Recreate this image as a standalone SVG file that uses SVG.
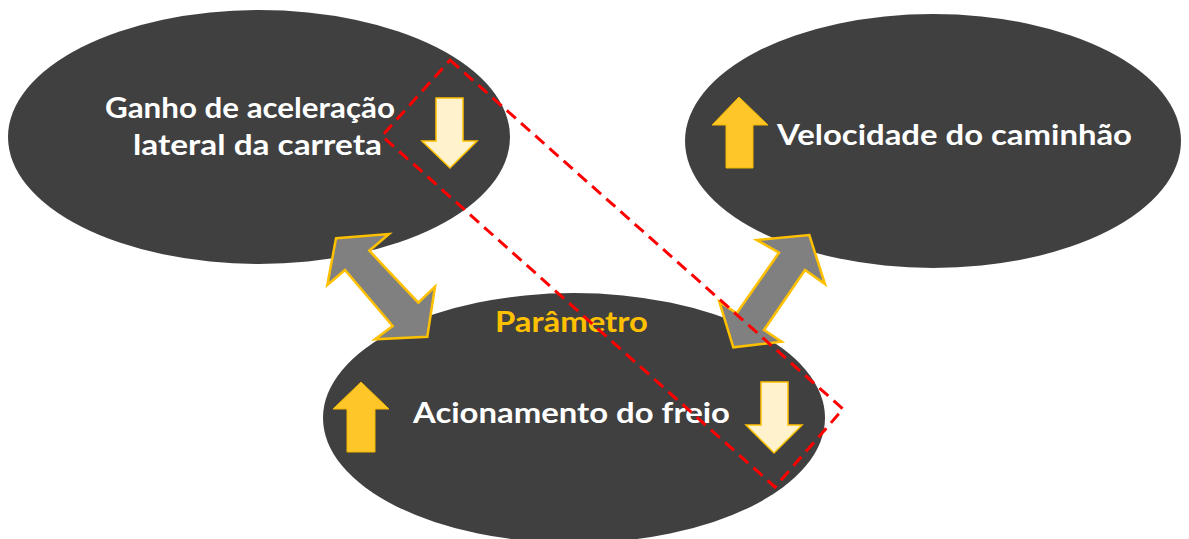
<svg xmlns="http://www.w3.org/2000/svg" width="1189" height="539" viewBox="0 0 1189 539">
<defs>
<style>
.node{fill:#404040;}
.lbl{font-family:Lato,"Liberation Sans",sans-serif;font-weight:bold;font-size:28px;fill:#ffffff;text-anchor:middle;}
.param{fill:#FFC000;}
.up{fill:#FFC629;stroke:#F2B600;stroke-width:1;}
.down{fill:#FFF2CC;stroke:#FFC000;stroke-width:1.5;}
.dbl{fill:#808080;stroke:#FFC000;stroke-width:2.5;stroke-linejoin:miter;}
.sel{fill:none;stroke:#FF0000;stroke-width:3;stroke-dasharray:12 7;}
</style>
</defs>
<rect width="1189" height="539" fill="#ffffff"/>
<g id="node-ganho">
<ellipse class="node" cx="259" cy="137" rx="251" ry="127"/>
<text class="lbl" x="250" y="118" textLength="290" lengthAdjust="spacingAndGlyphs">Ganho de aceleração</text>
<text class="lbl" x="257.5" y="155" textLength="249" lengthAdjust="spacingAndGlyphs">lateral da carreta</text>
<path class="down" d="M436,98 H463 V141 H477 L450,168 L422,141 H436 Z"/>
</g>
<g id="node-velocidade">
<ellipse class="node" cx="933" cy="141" rx="248" ry="127"/>
<path class="up" d="M739,97 L768,125 H753 V168 H726 V125 H712 Z"/>
<text class="lbl" x="954.5" y="145" textLength="355" lengthAdjust="spacingAndGlyphs">Velocidade do caminhão</text>
</g>
<g id="node-acionamento">
<ellipse class="node" cx="574" cy="418" rx="251" ry="125"/>
<text class="lbl param" x="571.5" y="332" textLength="153" lengthAdjust="spacingAndGlyphs">Parâmetro</text>
<path class="up" d="M361,382 L389,409 H375 V452 H347 V409 H333 Z"/>
<text class="lbl" x="571.5" y="423" textLength="317" lengthAdjust="spacingAndGlyphs">Acionamento do freio</text>
<path class="down" d="M761,382 H788 V425 H802 L774,453 L746,425 H761 Z"/>
</g>
<g id="connectors">
<path class="dbl" d="M336,238.3 L389,234 L369.3,250.7 L418.3,302.7 L435,286.7 L427.3,336.7 L375,339.3 L392.7,326 L345,270 L327.3,285 Z"/>
<path class="dbl" d="M809.3,235 L825,284 L805,270 L764,330 L781.7,341.7 L733.3,347.3 L719.3,301.7 L736.7,313.3 L779,252.7 L756.7,240 Z"/>
</g>
<g id="selection">
<path class="sel" d="M450,60 L843,409 L775,487 L382,136 Z"/>
</g>
</svg>
